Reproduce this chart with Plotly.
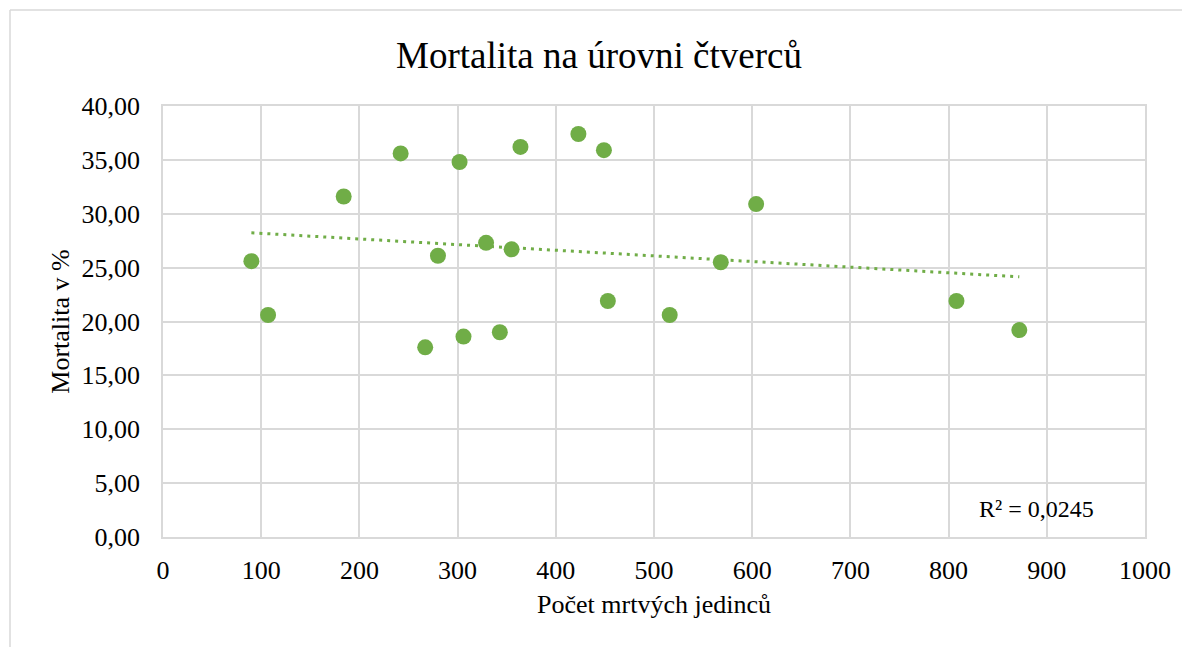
import numpy as np
import plotly.graph_objects as go

# Data
pocet_mrtvych = [90, 107, 184, 242, 267, 280, 302, 306, 329, 343, 355, 364,
                 423, 449, 453, 516, 568, 604, 808, 872]
mortalita = [25.6, 20.6, 31.6, 35.6, 17.6, 26.1, 34.8, 18.6, 27.3, 19.0, 26.7, 36.2,
             37.4, 35.9, 21.9, 20.6, 25.5, 30.9, 21.9, 19.2]

x_ticks = [0, 100, 200, 300, 400, 500, 600, 700, 800, 900, 1000]
y_ticks = [0, 5, 10, 15, 20, 25, 30, 35, 40]
y_tick_labels = ["0,00", "5,00", "10,00", "15,00", "20,00", "25,00", "30,00", "35,00", "40,00"]
r2_text = "R² = 0,0245"

title = "Mortalita na úrovni čtverců"
x_title = "Počet mrtvých jedinců"
y_title = "Mortalita v %"

green = "#70AD47"
grid = "#D9D9D9"
font_family = "Liberation Serif"

# Linear trend line (least squares) over data range
xa = np.array(pocet_mrtvych, dtype=float)
ya = np.array(mortalita, dtype=float)
slope, intercept = np.polyfit(xa, ya, 1)
tx = np.array([xa.min(), xa.max()])
ty = slope * tx + intercept

fig = go.Figure()
fig.add_trace(go.Scatter(
    x=tx, y=ty, mode="lines",
    line=dict(color=green, width=3, dash="3px,5px"),
    hoverinfo="skip", showlegend=False,
))
fig.add_trace(go.Scatter(
    x=pocet_mrtvych, y=mortalita, mode="markers",
    marker=dict(color=green, size=16, line=dict(width=0)),
    showlegend=False,
))

# page body has an 8px default margin; size the figure to fit the window
W, H = 1182, 639
L, R, T, B = 155, 45, 98, 110

fig.update_layout(
    width=W, height=H,
    margin=dict(l=L, r=R, t=T, b=B),
    paper_bgcolor="white", plot_bgcolor="white",
    font=dict(family=font_family, color="#000000", size=26),
    title=dict(text=title, x=0.5, xanchor="center", y=1 - 47 / H, yanchor="middle",
               font=dict(size=37, family=font_family, color="#000000")),
    xaxis=dict(
        range=[0, 1000], tickvals=x_ticks, ticktext=[str(v) for v in x_ticks],
        showgrid=True, gridcolor=grid, gridwidth=1.5,
        showline=True, linecolor=grid, linewidth=1.5, mirror=True,
        zeroline=False, ticks="outside", ticklen=9, tickcolor="rgba(0,0,0,0)",
        tickfont=dict(size=26, family=font_family),
        title=dict(text=x_title, font=dict(size=26, family=font_family), standoff=11),
    ),
    yaxis=dict(
        range=[0, 40], tickvals=y_ticks, ticktext=y_tick_labels,
        showgrid=True, gridcolor=grid, gridwidth=1.5,
        showline=True, linecolor=grid, linewidth=1.5, mirror=True,
        zeroline=False, ticks="outside", ticklen=16, tickcolor="rgba(0,0,0,0)",
        tickfont=dict(size=26, family=font_family),
        title=dict(text=y_title, font=dict(size=26, family=font_family), standoff=4),
    ),
)

fig.add_annotation(
    text=r2_text, xref="x", yref="y", x=890, y=2.6,
    showarrow=False, font=dict(size=24, family=font_family, color="#000000"),
)

# Chart outer border (light grey), positioned in pixel terms
pw = W - L - R
ph = H - T - B
def px_to_paper_x(px):
    return (px - L) / pw
def px_to_paper_y(py):
    return (H - B - py) / ph
fig.add_shape(type="line", xref="paper", yref="paper",
              x0=px_to_paper_x(2), y0=px_to_paper_y(2), x1=px_to_paper_x(W + 5), y1=px_to_paper_y(2),
              line=dict(color=grid, width=1.5))
fig.add_shape(type="line", xref="paper", yref="paper",
              x0=px_to_paper_x(2), y0=px_to_paper_y(2), x1=px_to_paper_x(2), y1=px_to_paper_y(H + 5),
              line=dict(color=grid, width=1.5))

fig.write_html("out.html")
